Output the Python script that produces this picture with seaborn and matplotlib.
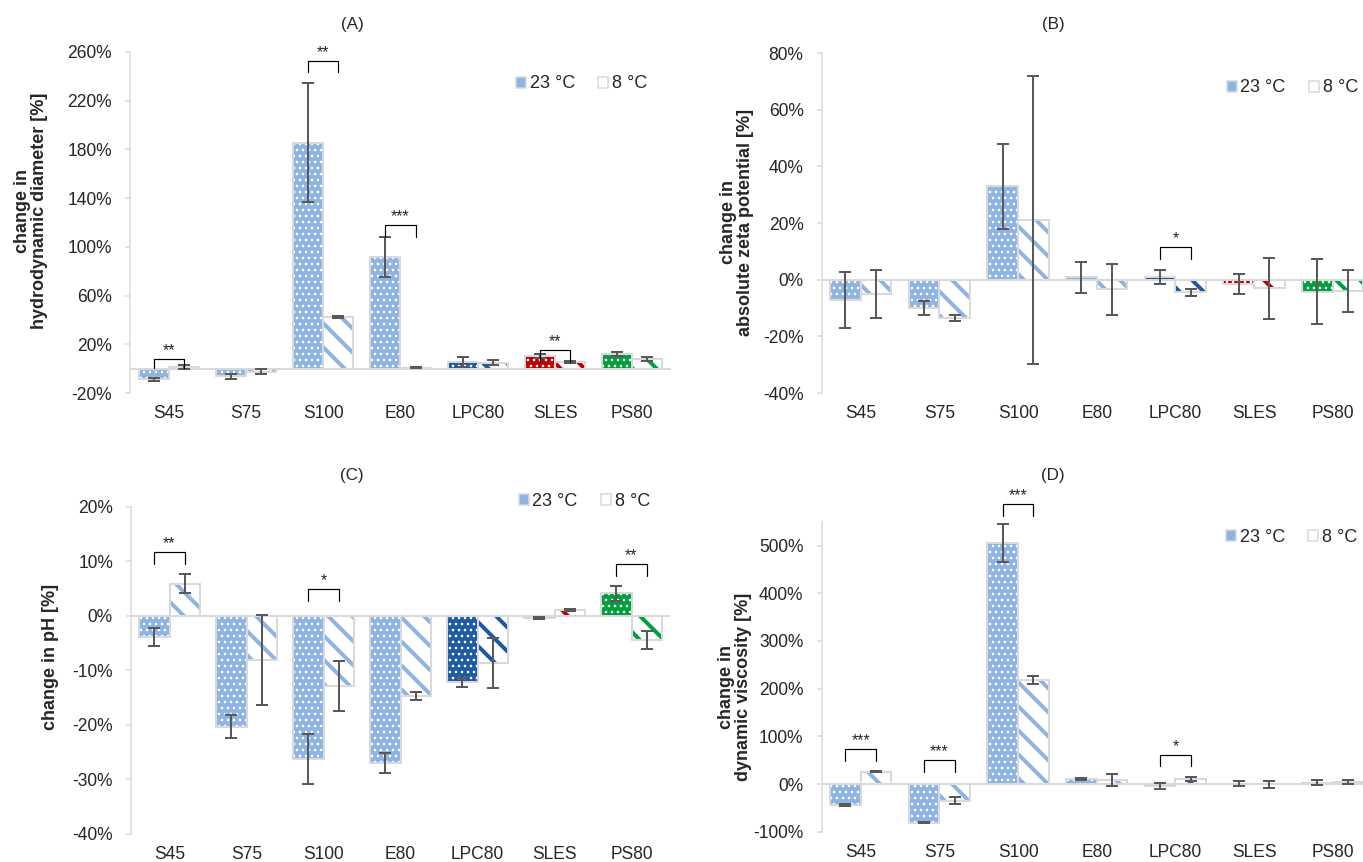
import matplotlib
matplotlib.use("Agg")
import numpy as np
import pandas as pd
from matplotlib import pyplot as plt
from matplotlib.patches import Patch, Rectangle
from matplotlib.ticker import FuncFormatter
import seaborn as sns

sns.set_theme(style="white")
plt.rcParams["font.family"] = ["Liberation Sans", "DejaVu Sans"]

categories = ["S45", "S75", "S100", "E80", "LPC80", "SLES", "PS80"]
temperatures = ["23 °C", "8 °C"]
light_blue = "#8DB4E2"
bar_colors = [light_blue] * 4 + ["#1F5AA6", "#C00000", "#00A03C"]
grey = "#D9D9D9"

# (A) hydrodynamic diameter
diameter_23 = [-8.6, -6.3, 185.5, 91.6, 5.6, 10.3, 12.0]
diameter_23_err = [1.3, 2.2, 49.0, 16.3, 4.3, 1.4, 1.5]
diameter_8 = [1.2, -2.5, 42.3, 0.8, 4.8, 5.6, 7.9]
diameter_8_err = [1.6, 1.9, 1.0, 0.6, 1.9, 0.8, 1.9]
diameter_sig = [("S45", "**", 7.7, 0.5), ("S100", "**", 252.8, 243.2),
                ("E80", "***", 117.8, 107.9), ("SLES", "**", 15.4, 5.8)]

# (B) absolute zeta potential
zeta_23 = [-7.2, -10.0, 32.9, 0.8, 0.8, -1.6, -4.2]
zeta_23_err = [10.0, 2.4, 15.1, 5.4, 2.5, 3.5, 11.6]
zeta_8 = [-5.1, -13.5, 21.1, -3.4, -4.4, -3.1, -4.0]
zeta_8_err = [8.5, 1.2, 50.7, 9.0, 1.2, 10.8, 7.5]
zeta_sig = [("LPC80", "*", 11.5, 7.4)]

# (C) pH
ph_23 = [-3.9, -20.3, -26.2, -27.0, -12.2, -0.4, 4.1]
ph_23_err = [1.7, 2.1, 4.6, 1.8, 0.8, 0.2, 1.4]
ph_8 = [5.9, -8.1, -12.8, -14.7, -8.6, 1.1, -4.4]
ph_8_err = [1.7, 8.2, 4.6, 0.8, 4.6, 0.2, 1.7]
ph_sig = [("S45", "**", 11.7, 9.5), ("S100", "*", 4.9, 2.7), ("PS80", "**", 9.5, 7.3)]

# (D) dynamic viscosity
visc_23 = [-44.0, -81.0, 506.0, 10.5, -3.5, 1.0, 3.1]
visc_23_err = [2.0, 1.0, 39.5, 2.0, 6.3, 6.0, 4.5]
visc_8 = [25.9, -34.6, 218.5, 8.7, 11.0, -1.0, 4.5]
visc_8_err = [1.5, 8.0, 8.7, 12.3, 4.0, 8.0, 4.5]
visc_sig = [("S45", "***", 72.7, 48.0), ("S75", "***", 50.0, 26.0),
            ("S100", "***", 587.0, 563.0), ("LPC80", "*", 61.0, 38.0)]


def draw_panel(ax, v23, e23, v8, e8, ylim, yticks, brackets):
    df = pd.DataFrame({
        "surfactant": categories * 2,
        "temperature": [temperatures[0]] * 7 + [temperatures[1]] * 7,
        "change": v23 + v8,
    })
    sns.barplot(df, x="surfactant", y="change", hue="temperature", order=categories,
                hue_order=temperatures, width=0.78, gap=0, errorbar=None,
                legend=False, ax=ax)
    bars = sorted(ax.patches, key=lambda p: p.get_x())
    for i, p in enumerate(bars):
        cat, t = divmod(i, 2)
        color = bar_colors[cat]
        if t == 0:
            p.set_facecolor(color)
            p.set_edgecolor("white")
            p.set_hatch("..")
            hlw = 1.4
        else:
            p.set_facecolor("white")
            p.set_edgecolor(color)
            p.set_hatch("\\")
            hlw = 4.0
        if hasattr(p, "set_hatch_linewidth"):
            p.set_hatch_linewidth(hlw)
        p.set_linewidth(0)
        ax.add_patch(Rectangle(p.get_xy(), p.get_width(), p.get_height(), fill=False,
                               edgecolor=grey, lw=2, zorder=2))

    x = [p.get_x() + p.get_width() / 2 for p in bars]
    y = [v for pair in zip(v23, v8) for v in pair]
    yerr = [v for pair in zip(e23, e8) for v in pair]
    ax.errorbar(x, y, yerr=yerr, fmt="none", ecolor="#595959", elinewidth=2,
                capsize=6, capthick=2, zorder=4)

    for cat, label, top, leg in brackets:
        i = categories.index(cat)
        xl, xr = x[2 * i], x[2 * i + 1]
        ax.plot([xl, xl, xr, xr], [leg, top, top, leg], color="black", lw=1.2,
                clip_on=False, zorder=5)
        ax.annotate(label, ((xl + xr) / 2, top), xytext=(0, 1), textcoords="offset points",
                    ha="center", va="bottom", fontsize=16, annotation_clip=False)

    ax.axhline(0, color=grey, lw=2, zorder=2.5)
    ax.set_xlim(-0.5, 6.5)
    ax.set_ylim(*ylim)
    ax.set_yticks(yticks)
    ax.yaxis.set_major_formatter(FuncFormatter(lambda v, _: f"{v:.0f}%"))
    ax.set_xticks(range(len(categories)), categories)
    ax.tick_params(axis="y", left=True, length=5, width=1.5, color=grey, pad=13, labelsize=17.5)
    ax.tick_params(axis="x", length=0, pad=12, labelsize=17.5)
    for s in ["top", "right", "bottom"]:
        ax.spines[s].set_visible(False)
    ax.spines["left"].set_color(grey)
    ax.spines["left"].set_linewidth(1.5)
    ax.set_xlabel("")
    ax.set_ylabel("")


W, H = 1363, 862
fig = plt.figure(figsize=(W / 72, H / 72), dpi=72)


def box(left, right, top, bottom):
    return [left / W, 1 - bottom / H, (right - left) / W, (bottom - top) / H]


ax_a = fig.add_axes(box(130, 671, 52, 393))
ax_b = fig.add_axes(box(821.5, 1372, 53, 393))
ax_c = fig.add_axes(box(131, 670, 506.7, 834))
ax_d = fig.add_axes(box(821.5, 1372, 521.7, 831.7))

draw_panel(ax_a, diameter_23, diameter_23_err, diameter_8, diameter_8_err,
           (-20, 260), np.arange(-20, 261, 40), diameter_sig)
draw_panel(ax_b, zeta_23, zeta_23_err, zeta_8, zeta_8_err,
           (-40, 80), np.arange(-40, 81, 20), zeta_sig)
draw_panel(ax_c, ph_23, ph_23_err, ph_8, ph_8_err,
           (-40, 20), np.arange(-40, 21, 10), ph_sig)
draw_panel(ax_d, visc_23, visc_23_err, visc_8, visc_8_err,
           (-100, 550), np.arange(-100, 501, 100), visc_sig)

titles = [("(A)", 352, 25), ("(B)", 1053, 25), ("(C)", 352, 476), ("(D)", 1053, 476)]
for text, tx, ty in titles:
    fig.text(tx / W, 1 - ty / H, text, ha="center", va="center", fontsize=17)

ylabels = [("change in\nhydrodynamic diameter [%]", 31, 211),
           ("change in\nabsolute zeta potential [%]", 737, 222),
           ("change in pH [%]", 51, 657),
           ("change in\ndynamic viscosity [%]", 735, 687)]
for text, tx, ty in ylabels:
    fig.text(tx / W, 1 - ty / H, text, ha="center", va="center", rotation=90,
             multialignment="center", fontsize=18, fontweight="bold", linespacing=1.0)

handles = [Patch(facecolor=light_blue, edgecolor=grey, lw=1.5),
           Patch(facecolor="white", edgecolor=grey, lw=1.5)]
for lx, ly in [(516, 84), (1227, 88), (519, 501), (1226, 537)]:
    fig.legend(handles, temperatures, loc="center left", bbox_to_anchor=(lx / W, 1 - ly / H),
               ncol=2, frameon=False, fontsize=18, handlelength=0.55, handleheight=0.55,
               handletextpad=0.2, columnspacing=1.3, borderpad=0, borderaxespad=0)

fig.savefig("out.png", dpi=72)
